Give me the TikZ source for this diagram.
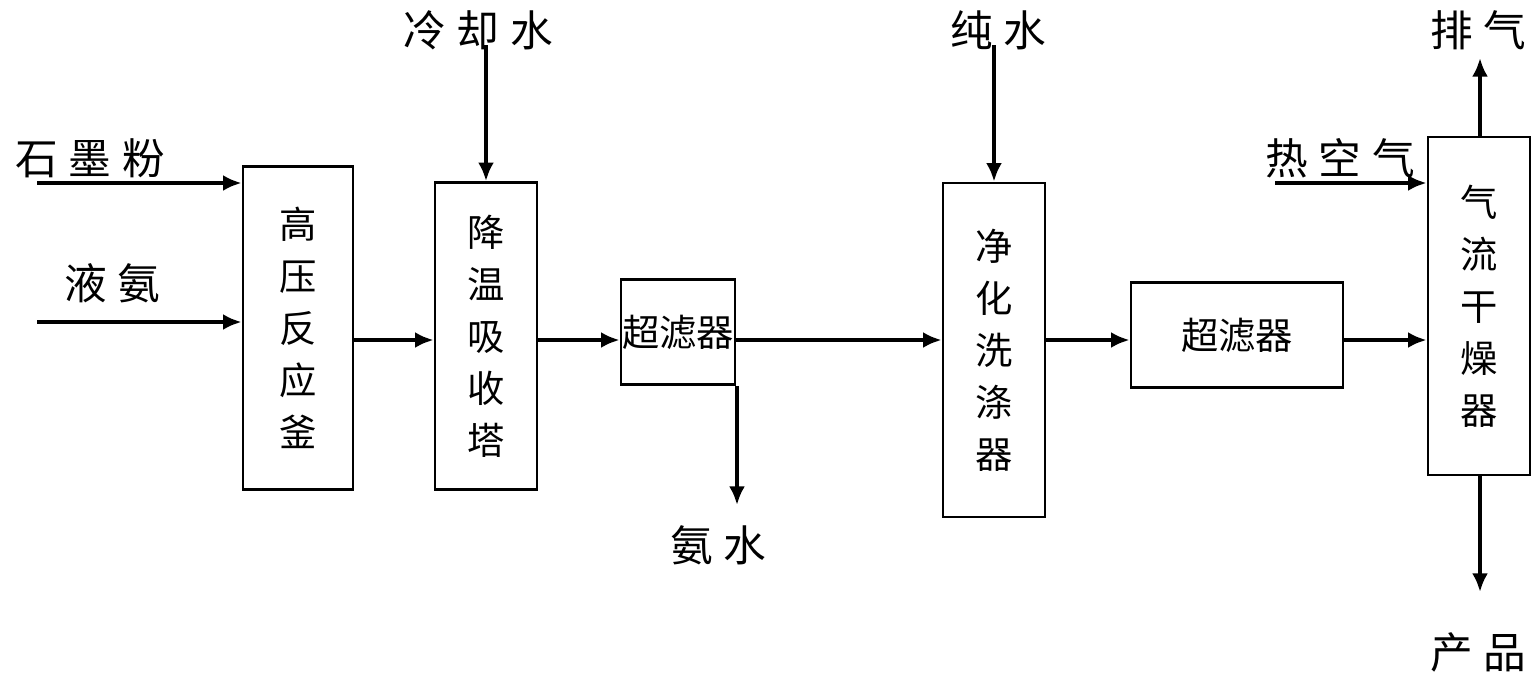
\documentclass[tikz,border=0pt]{standalone}
\usepackage{fontspec}
\setmainfont{Noto Sans CJK SC}
\usetikzlibrary{arrows.meta}
\newcommand{\gapc}{\hspace{0.25em}}
\begin{document}
\begin{tikzpicture}[x=0.75pt,y=-0.75pt,
 box/.style={draw,line width=2pt,inner sep=0pt,align=center,font=\fontsize{28}{39}\selectfont},
 lab/.style={font=\fontsize{32}{34}\selectfont},
 arr/.style={line width=3pt,-{Latex[length=14pt,width=12pt]}}]
\useasboundingbox (0,0) rectangle (1537,679);
\node[box,minimum width=110*0.75pt,minimum height=323*0.75pt] (r) at (298,328) {高\\压\\反\\应\\釜};
\node[box,minimum width=102*0.75pt,minimum height=307*0.75pt] (t) at (486,336) {降\\温\\吸\\收\\塔};
\node[box,minimum width=114*0.75pt,minimum height=105*0.75pt] (f1) at (678,332) {超滤器};
\node[box,minimum width=102*0.75pt,minimum height=334*0.75pt] (w) at (994,350) {净\\化\\洗\\涤\\器};
\node[box,minimum width=212*0.75pt,minimum height=105*0.75pt] (f2) at (1237,335) {超滤器};
\node[box,minimum width=102*0.75pt,minimum height=338*0.75pt] (d) at (1479,306) {气\\流\\干\\燥\\器};
\node[lab] (a1) at (90,158) {石\gapc 墨\gapc 粉};
\node[lab] (a2) at (112,283) {液\gapc 氨};
\node[lab] (a3) at (478,30) {冷\gapc 却\gapc 水};
\node[lab] (a4) at (998,30) {纯\gapc 水};
\node[lab] (a5) at (1340,158) {热\gapc 空\gapc 气};
\node[lab] (a6) at (1478,30) {排\gapc 气};
\node[lab] (a7) at (1478,652) {产\gapc 品};
\node[lab] (a8) at (718,545) {氨\gapc 水};
\coordinate (s1) at (37,183); \coordinate (s2) at (37,322);
\coordinate (s3) at (486,45); \coordinate (s4) at (994,45);
\coordinate (s5) at (1275,183); \coordinate (s6) at (1480,58);
\coordinate (s7) at (1480,592); \coordinate (s8) at (737,505);
\draw[arr] (s1) -- (s1-|r.west);
\draw[arr] (s2) -- (s2-|r.west);
\draw[arr] (r.east|-0,340) -- (t.west|-0,340);
\draw[arr] (t.east|-0,340) -- (f1.west|-0,340);
\draw[arr] (f1.east|-0,340) -- (w.west|-0,340);
\draw[arr] (w.east|-0,340) -- (f2.west|-0,340);
\draw[arr] (f2.east|-0,340) -- (d.west|-0,340);
\draw[arr] (s3) -- (t.north);
\draw[arr] (s4) -- (w.north);
\draw[arr] (s5) -- (s5-|d.west);
\draw[arr] (d.north-|s6) -- (s6);
\draw[arr] (d.south-|s7) -- (s7);
\draw[arr] (f1.south-|s8) -- (s8);
\end{tikzpicture}
\end{document}
